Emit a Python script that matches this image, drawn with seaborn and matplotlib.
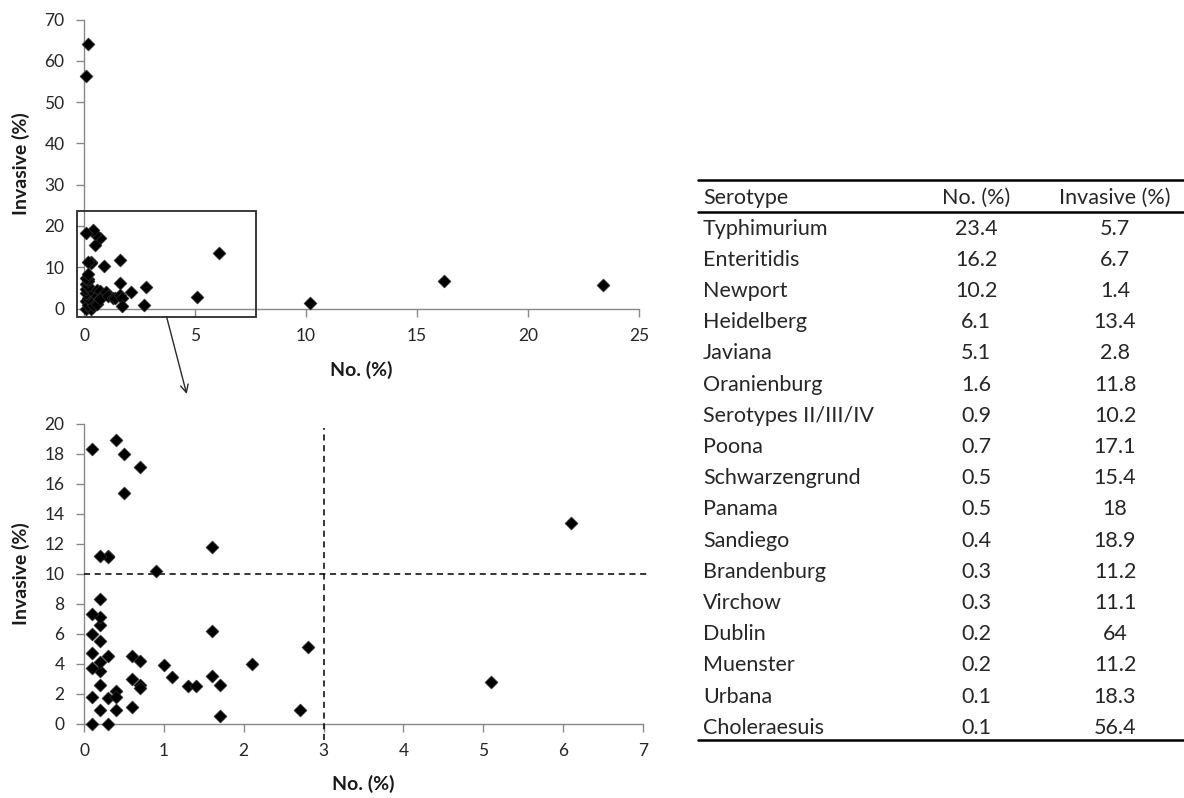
import numpy as np
import pandas as pd
import seaborn as sns
import matplotlib.pyplot as plt
from matplotlib.patches import Rectangle
from matplotlib.lines import Line2D

sns.set_style("ticks")
plt.rcParams['font.family'] = ['Lato', 'DejaVu Sans']

# serotypes listed in the table
serotypes = ["Typhimurium", "Enteritidis", "Newport", "Heidelberg", "Javiana",
             "Oranienburg", "Serotypes II/III/IV", "Poona", "Schwarzengrund",
             "Panama", "Sandiego", "Brandenburg", "Virchow", "Dublin",
             "Muenster", "Urbana", "Choleraesuis"]
table_no = [23.4, 16.2, 10.2, 6.1, 5.1, 1.6, 0.9, 0.7, 0.5, 0.5, 0.4, 0.3, 0.3,
            0.2, 0.2, 0.1, 0.1]
table_inv = [5.7, 6.7, 1.4, 13.4, 2.8, 11.8, 10.2, 17.1, 15.4, 18, 18.9, 11.2,
             11.1, 64, 11.2, 18.3, 56.4]

# remaining serotypes
other_no = [0.1, 0.3, 0.1, 0.2, 0.3, 0.4, 0.4, 0.4, 0.2, 0.2, 0.2, 0.1, 0.1,
            0.3, 0.1, 0.2, 0.2, 0.2, 0.1, 0.2, 0.6, 0.6, 0.6, 0.7, 0.7, 0.7,
            1.0, 1.1, 1.3, 1.4, 1.6, 1.6, 1.7, 1.7, 2.1, 2.7, 2.8]
other_inv = [0, 0, 1.8, 0.9, 1.7, 2.2, 1.8, 0.9, 2.6, 3.5, 4.1, 3.7, 4.7,
             4.5, 6.0, 5.5, 6.6, 7.1, 7.3, 8.3, 4.5, 3.0, 1.1, 4.2, 2.6, 2.4,
             3.9, 3.1, 2.5, 2.5, 6.2, 3.2, 2.6, 0.5, 4.0, 0.9, 5.1]

headers = ["Serotype", "No. (%)", "Invasive (%)"]

df = pd.DataFrame({'no': table_no + other_no, 'inv': table_inv + other_inv})
zoomed = df[(df['no'] <= 7) & (df['inv'] <= 20)]

W, H = 1184, 798
fig = plt.figure(figsize=(W / 100, H / 100), dpi=100)
ax_top = fig.add_axes([84 / W, 1 - 308.5 / H, 555 / W, 289 / H])
ax_bot = fig.add_axes([84 / W, 1 - 723.5 / H, 559 / W, 299.5 / H])

axis_grey = '#898989'
pts = dict(marker='D', color='black', s=44, edgecolor='#3a3a3a', linewidth=0.4,
           clip_on=False, zorder=4)

sns.scatterplot(data=df, x='no', y='inv', ax=ax_top, **pts)
sns.scatterplot(data=zoomed, x='no', y='inv', ax=ax_bot, **pts)

for ax in (ax_top, ax_bot):
    sns.despine(ax=ax)
    for side in ('left', 'bottom'):
        ax.spines[side].set_color(axis_grey)
        ax.spines[side].set_linewidth(1)
    ax.tick_params(direction='out', length=6, width=1, color=axis_grey,
                   labelsize=12.5, labelcolor='#262626')
    ax.tick_params(axis='x', pad=8)
    ax.tick_params(axis='y', pad=8)
    ax.set_xlabel("No. (%)", fontsize=14, fontweight='bold', color='#1a1a1a')
    ax.set_ylabel("Invasive (%)", fontsize=14, fontweight='bold', color='#1a1a1a')

ax_top.set_xlim(0, 25)
ax_top.set_ylim(0, 70)
ax_top.set_xticks(np.arange(0, 26, 5))
ax_top.set_yticks(np.arange(0, 71, 10))
ax_top.yaxis.set_label_coords(-0.097, 0.5)
ax_top.xaxis.set_label_coords(0.5, -0.182)

ax_bot.set_xlim(0, 7)
ax_bot.set_ylim(0, 20)
ax_bot.set_xticks(np.arange(0, 8, 1))
ax_bot.set_yticks(np.arange(0, 21, 2))
ax_bot.yaxis.set_label_coords(-0.097, 0.5)
ax_bot.xaxis.set_label_coords(0.5, -0.17)

# cut-off lines in the zoomed plot
ax_bot.plot([0, 7.07], [10, 10], ls=(0, (4, 3)), color='black', lw=1.1,
            clip_on=False, zorder=3)
ax_bot.plot([3, 3], [-1.1, 19.7], ls=(0, (4, 3)), color='black', lw=1.1,
            clip_on=False, zorder=3)

# zoom box and arrow
ax_top.add_patch(Rectangle((-0.3, -2.0), 8.05, 25.6, fill=False, ec='#2a2a2a',
                           lw=1.3, clip_on=False, zorder=5))
ax_top.annotate('', xy=(186.7 / W, 1 - 394 / H), xycoords='figure fraction',
                xytext=(3.72, -2.0), textcoords='data',
                arrowprops=dict(arrowstyle='->', color='#2a2a2a', lw=1,
                                shrinkA=0, shrinkB=0, mutation_scale=14))

# table on the right
col_x = [703 / W, 976 / W, 1115 / W]
col_ha = ['left', 'center', 'center']
tfont = 15.5
for x, ha, txt in zip(col_x, col_ha, headers):
    fig.text(x, 1 - 198 / H, txt, ha=ha, va='center', fontsize=tfont)
for i, name in enumerate(serotypes):
    y = 1 - (228.6 + i * 31.2) / H
    vals = [name, f"{table_no[i]:g}", f"{table_inv[i]:g}"]
    for x, ha, txt in zip(col_x, col_ha, vals):
        fig.text(x, y, txt, ha=ha, va='center', fontsize=tfont)
for ypx in (180, 212, 740):
    fig.add_artist(Line2D([698 / W, 1.0], [1 - ypx / H, 1 - ypx / H],
                          color='black', lw=1.8))

fig.savefig("out.png", dpi=100)
